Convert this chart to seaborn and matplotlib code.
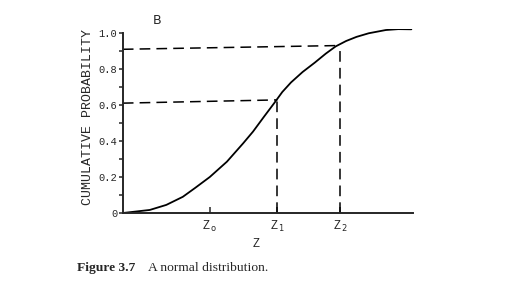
import numpy as np
import pandas as pd
import matplotlib
matplotlib.use("Agg")
import matplotlib.pyplot as plt
import seaborn as sns

# curve (x in arbitrary z units, 0..10)
z_vals = [0.0, 0.93, 1.5, 2.07, 2.5, 3.0, 3.59, 4.15, 4.49, 4.87, 5.22, 5.5, 5.8, 6.2, 6.62, 7.0, 7.34, 7.7, 8.06, 8.48, 9.07, 9.5, 9.95]
p_vals = [0.0, 0.017, 0.045, 0.09, 0.14, 0.20, 0.285, 0.387, 0.452, 0.535, 0.61, 0.672, 0.725, 0.783, 0.835, 0.885, 0.925, 0.955, 0.978, 0.998, 1.016, 1.021, 1.02]

z_marks = [3.0, 5.33, 7.5]
z_labels = [r"Z$_{\,\mathrm{o}}$", r"Z$_{\,\mathrm{1}}$", r"Z$_{\,\mathrm{2}}$"]
guide_z = [5.33, 7.5]
guide_left = [0.61, 0.909]
guide_right = [0.628, 0.93]
y_ticks = [0, 0.2, 0.4, 0.6, 0.8, 1.0]
y_ticklabels = ["0", "0.2", "0.4", "0.6", "0.8", "1.0"]

sns.set_style("ticks")
plt.rcParams["font.family"] = ["DejaVu Sans"]
mono = "Liberation Mono"

fig = plt.figure(figsize=(5.16, 2.93), dpi=100)
ax = fig.add_axes([0.238, 0.273, 0.562, 0.627])

df = pd.DataFrame({"z": z_vals, "p": p_vals})
sns.lineplot(data=df, x="z", y="p", ax=ax, color="black", lw=1.3, sort=False)

for zg, pl, pr in zip(guide_z, guide_left, guide_right):
    ax.plot([0, zg], [pl, pr], color="black", lw=1.1, ls=(0, (7, 4)))
    ax.plot([zg, zg], [0, pr], color="black", lw=1.1, ls=(0, (7, 4)))

ax.set_xlim(0, 10)
ax.set_ylim(0, 1.02)
sns.despine(ax=ax)
ax.spines["left"].set_bounds(0, 1.0)
ax.spines["left"].set_linewidth(1.4)
ax.spines["bottom"].set_linewidth(1.4)

ax.set_yticks(y_ticks)
ax.set_yticklabels(y_ticklabels, fontfamily=mono, fontsize=7.5)
ax.set_yticks(np.arange(0.1, 1.0, 0.2), minor=True)
ax.tick_params(axis="y", which="both", direction="out", length=3, width=1.1, pad=1)

ax.set_xticks(z_marks)
ax.set_xticklabels(z_labels, fontfamily=mono, fontsize=8.5)
ax.tick_params(axis="x", which="major", direction="in", length=4, width=1.1, pad=4)

ax.set_xlabel("Z", fontfamily=mono, fontsize=8.5)
ax.xaxis.set_label_coords((256 - 123) / 290, -0.169)
ax.xaxis.label.set_va("center")
ax.set_ylabel("CUMULATIVE PROBABILITY", fontfamily=mono, fontsize=9.5)
ax.yaxis.set_label_coords((88 - 123) / 290, 0.52)
ax.yaxis.label.set_va("center")

fig.text(157 / 516, 1 - 20 / 293, "B", fontsize=9, ha="center", va="center")
fig.text(77 / 516, 1 - 268 / 293, "Figure 3.7", fontfamily="Liberation Serif",
         fontweight="bold", fontsize=9.7, ha="left", va="center")
fig.text(148 / 516, 1 - 268 / 293, "A normal distribution.", fontfamily="Liberation Serif",
         fontsize=9.7, ha="left", va="center")

fig.savefig("out.png", dpi=100)
